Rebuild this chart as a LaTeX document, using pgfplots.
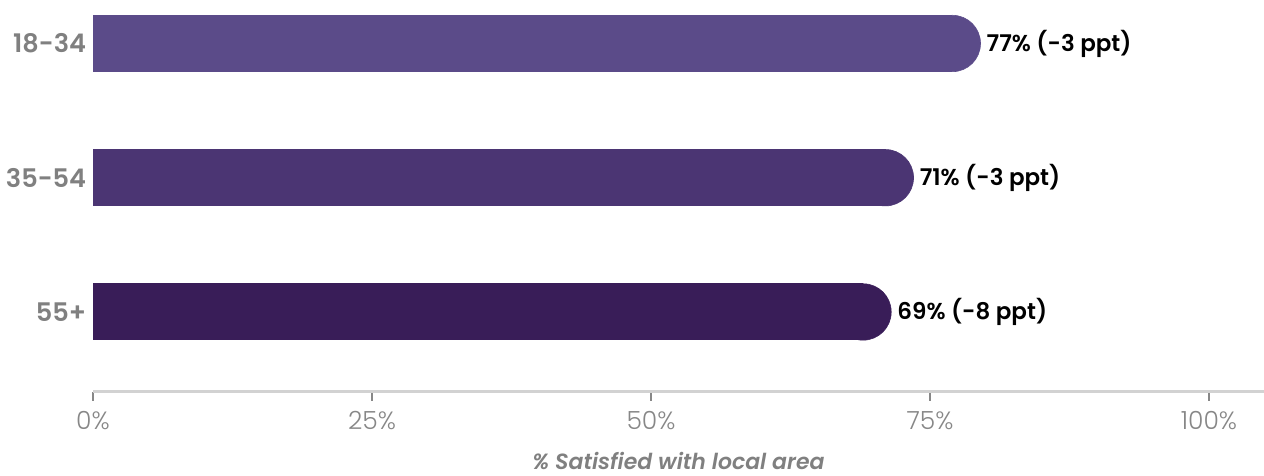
\documentclass[border=0pt]{standalone}
\usepackage{pgfplots}
\pgfplotsset{compat=1.18}
\usepackage{fontspec}
\setmainfont{Poppins}
\newfontfamily\popsemi{Poppins SemiBold}[ItalicFont={Poppins SemiBold Italic}]
\newfontfamily\poplight{Poppins Light}

\definecolor{barA}{RGB}{91,75,137}
\definecolor{barB}{RGB}{75,53,115}
\definecolor{barC}{RGB}{57,29,88}
\definecolor{catgray}{RGB}{128,128,128}
\definecolor{tickgray}{RGB}{135,135,135}
\definecolor{axisgray}{RGB}{210,210,210}

\begin{document}
\begin{tikzpicture}
\begin{axis}[
  name=ax, at={(0,0)}, anchor=south west,
  scale only axis, width=585.5pt, height=195.85pt,
  xmin=0, xmax=104.93, ymin=-0.594, ymax=2.324,
  axis x line=bottom, axis y line=left,
  x axis line style={draw=axisgray, line width=1.5pt, -},
  y axis line style={draw=none},
  xtick={0,25,50,75,100},
  xticklabels={0\%,25\%,50\%,75\%,100\%},
  xtick align=outside, major tick length=4.5pt,
  xtick style={draw=tickgray, line width=1pt},
  xticklabel style={anchor=north, inner sep=0pt, yshift=-5pt,
    font=\poplight\fontsize{12.5pt}{14pt}\selectfont, text=tickgray},
  ytick={0,1,2},
  yticklabels={55+,35-54,18-34},
  ytick style={draw=none},
  yticklabel style={anchor=east, inner sep=0pt, xshift=-1pt,
    font=\popsemi\fontsize{12.8pt}{14pt}\selectfont, text=catgray},
  xlabel={\% Satisfied with local area},
  xlabel style={at={(axis description cs:0.5,0)}, anchor=base, yshift=-38.8pt,
    font=\popsemi\itshape\fontsize{11pt}{13pt}\selectfont, text=catgray},
  clip=false,
]
% bars: square body from 0 to the value, value label past the round cap
\addplot[xbar, bar width=28.5pt, bar shift=0pt, fill=barA, draw=none,
  point meta=explicit symbolic, nodes near coords, nodes near coords align={horizontal},
  nodes near coords style={anchor=west, inner sep=0pt, xshift=17pt,
    font=\popsemi\fontsize{11.5pt}{13pt}\selectfont, text=black}]
  coordinates {(77,2) [77\% (-3 ppt)]};
\addplot[xbar, bar width=28.5pt, bar shift=0pt, fill=barB, draw=none,
  point meta=explicit symbolic, nodes near coords, nodes near coords align={horizontal},
  nodes near coords style={anchor=west, inner sep=0pt, xshift=17pt,
    font=\popsemi\fontsize{11.5pt}{13pt}\selectfont, text=black}]
  coordinates {(71,1) [71\% (-3 ppt)]};
\addplot[xbar, bar width=28.5pt, bar shift=0pt, fill=barC, draw=none,
  point meta=explicit symbolic, nodes near coords, nodes near coords align={horizontal},
  nodes near coords style={anchor=west, inner sep=0pt, xshift=17pt,
    font=\popsemi\fontsize{11.5pt}{13pt}\selectfont, text=black}]
  coordinates {(69,0) [69\% (-8 ppt)]};
% round caps at the bar ends
\addplot[only marks, color=barA, mark=*, mark size=14.1pt,
  mark options={draw=barA, fill=barA, line width=0.3pt}]
  coordinates {(77,2)};
\addplot[only marks, color=barB, mark=*, mark size=14.1pt,
  mark options={draw=barB, fill=barB, line width=0.3pt}]
  coordinates {(71,1)};
\addplot[only marks, color=barC, mark=*, mark size=14.1pt,
  mark options={draw=barC, fill=barC, line width=0.3pt}]
  coordinates {(69,0)};
\end{axis}
\pgfresetboundingbox
\path[use as bounding box] (ax.south west) ++(-46.5pt,-42.15pt) rectangle (ax.north east);
\end{tikzpicture}
\end{document}
